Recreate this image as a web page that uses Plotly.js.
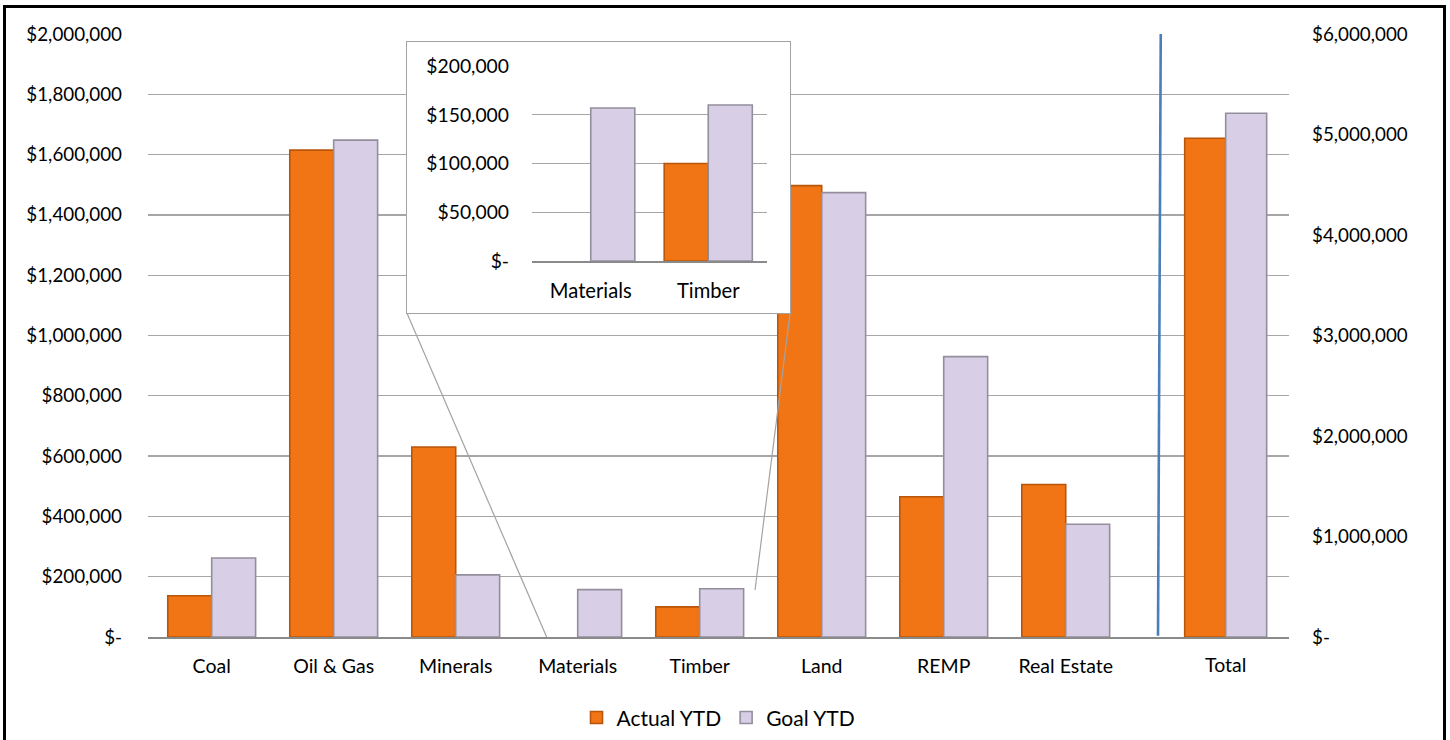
<!DOCTYPE html>
<html>
<head>
<meta charset="utf-8">
<script src="https://cdn.plot.ly/plotly-3.0.1.min.js"></script>
<style>
  html, body { margin: 0; padding: 0; background: #ffffff; }
  #wrap { position: relative; width: 1450px; height: 740px; overflow: hidden; }
  #main { position: absolute; left: 0; top: 0; width: 1450px; height: 740px; }
  #insetBox { position: absolute; left: 406px; top: 41px; width: 385px; height: 273px;
              box-sizing: border-box; border: 1px solid #a3a3a3; background: #ffffff; }
  #inset { position: absolute; left: 0; top: 0; width: 383px; height: 271px; }
  #frame { position: absolute; left: 3px; top: 5px; width: 1443px; height: 745px;
           box-sizing: border-box; border: 3px solid #000000; pointer-events: none; }
</style>
</head>
<body>
<div id="wrap">
  <div id="main"></div>
  <div id="insetBox"><div id="inset"></div></div>
  <div id="frame"></div>
</div>
<script>
// ---------- data ----------
var categories   = ['Coal', 'Oil & Gas', 'Minerals', 'Materials', 'Timber', 'Land', 'REMP', 'Real Estate'];
var actualYTD    = [137000, 1615000, 630000, null, 100000, 1497000, 465000, 506000];
var goalYTD      = [262000, 1648000, 206000, 157000, 160000, 1474000, 930000, 374000];

var totalCategory = ['Total'];
var totalActual   = [4962000];
var totalGoal     = [5211000];

var insetCategories = ['Materials', 'Timber'];

var leftTickVals  = [0, 200000, 400000, 600000, 800000, 1000000, 1200000, 1400000, 1600000, 1800000, 2000000];
var leftTickText  = ['$-', '$200,000', '$400,000', '$600,000', '$800,000', '$1,000,000', '$1,200,000', '$1,400,000', '$1,600,000', '$1,800,000', '$2,000,000'];
var rightTickVals = [0, 1000000, 2000000, 3000000, 4000000, 5000000, 6000000];
var rightTickText = ['$-', '$1,000,000', '$2,000,000', '$3,000,000', '$4,000,000', '$5,000,000', '$6,000,000'];
var insetTickVals = [0, 50000, 100000, 150000, 200000];
var insetTickText = ['$-', '$50,000', '$100,000', '$150,000', '$200,000'];

// ---------- styles ----------
var ORANGE = '#F17514', ORANGE_EDGE = '#B8560B';
var LILAC  = '#D8CFE6', LILAC_EDGE  = '#948E9C';
var GRID = '#a6a6a6', AXIS = '#8a8a8a';
var FONT = 'Lato, "Open Sans", sans-serif';

var BW = 0.36;    // bar width (category units), main
var BWT = 0.336;  // bar width for Total

var traces = [
  { type: 'bar', name: 'Actual YTD', x: categories, y: actualYTD,
    width: BW, offset: -BW, xaxis: 'x', yaxis: 'y',
    marker: { color: ORANGE, line: { color: ORANGE_EDGE, width: 1.6 } }, hoverinfo: 'skip' },
  { type: 'bar', name: 'Goal YTD', x: categories, y: goalYTD,
    width: BW, offset: 0, xaxis: 'x', yaxis: 'y',
    marker: { color: LILAC, line: { color: LILAC_EDGE, width: 1.6 } }, hoverinfo: 'skip' },
  { type: 'bar', name: 'Actual YTD', x: totalCategory, y: totalActual, showlegend: false,
    width: BWT, offset: -BWT, xaxis: 'x2', yaxis: 'y2',
    marker: { color: ORANGE, line: { color: ORANGE_EDGE, width: 1.6 } }, hoverinfo: 'skip' },
  { type: 'bar', name: 'Goal YTD', x: totalCategory, y: totalGoal, showlegend: false,
    width: BWT, offset: 0, xaxis: 'x2', yaxis: 'y2',
    marker: { color: LILAC, line: { color: LILAC_EDGE, width: 1.6 } }, hoverinfo: 'skip' }
];

var yTickFont = { family: FONT, size: 18.8, color: '#000000' };
var xTickFont = { family: FONT, size: 19.5, color: '#000000' };

var layout = {
  width: 1450, height: 740,
  margin: { l: 148, r: 161, t: 34, b: 103, autoexpand: false },
  paper_bgcolor: 'rgba(0,0,0,0)', plot_bgcolor: 'rgba(0,0,0,0)',
  barmode: 'overlay',
  font: { family: FONT, color: '#000000' },
  showlegend: true,
  legend: { orientation: 'h', x: 0.5, xanchor: 'center', y: -0.134, yanchor: 'middle',
            font: { family: FONT, size: 21, color: '#000000' }, traceorder: 'normal' },
  xaxis: { type: 'category', categoryorder: 'array', categoryarray: categories,
           range: [-0.522, 8.830], showgrid: false, zeroline: false,
           showline: true, linecolor: AXIS, linewidth: 1.6,
           ticks: '', ticklabelstandoff: 11, tickfont: xTickFont, fixedrange: true },
  xaxis2: { type: 'category', overlaying: 'x', anchor: 'y', side: 'bottom',
            range: [-8.834, 0.519], showgrid: false, zeroline: false, showline: false,
            ticks: '', ticklabelstandoff: 14, tickfont: xTickFont, fixedrange: true },
  yaxis: { range: [0, 2000000], tickmode: 'array', tickvals: leftTickVals, ticktext: leftTickText,
           showgrid: true, gridcolor: GRID, gridwidth: 1.3, zeroline: false, showline: false,
           ticks: '', ticklabelstandoff: 25, tickfont: yTickFont, fixedrange: true },
  yaxis2: { overlaying: 'y', side: 'right', anchor: 'x', range: [0, 6000000],
            tickmode: 'array', tickvals: rightTickVals, ticktext: rightTickText,
            showgrid: false, zeroline: false, showline: false,
            ticks: '', ticklabelstandoff: 22, tickfont: yTickFont, fixedrange: true },
  shapes: [
    // separator line before Total
    { type: 'line', xref: 'paper', yref: 'paper', x0: 0.8876, y0: 1, x1: 0.8852, y1: 0.002,
      line: { color: '#4a7ebb', width: 2.6 }, layer: 'above' },
    // zoom connector lines
    { type: 'line', xref: 'paper', yref: 'paper', x0: 0.2270, y0: 0.5368, x1: 0.3494, y1: 0.0,
      line: { color: '#a3a3a3', width: 1.2 }, layer: 'above' },
    { type: 'line', xref: 'paper', yref: 'paper', x0: 0.5627, y0: 0.5368, x1: 0.5320, y1: 0.0779,
      line: { color: '#a3a3a3', width: 1.2 }, layer: 'above' }
  ]
};

Plotly.newPlot('main', traces, layout, { staticPlot: true, displayModeBar: false });

// ---------- inset (zoom of Materials & Timber) ----------
var insetActual = insetCategories.map(function (c) { return actualYTD[categories.indexOf(c)]; });
var insetGoal   = insetCategories.map(function (c) { return goalYTD[categories.indexOf(c)]; });
var IBW = 0.375;

var insetTraces = [
  { type: 'bar', name: 'Actual YTD', x: insetCategories, y: insetActual, width: IBW, offset: -IBW,
    marker: { color: ORANGE, line: { color: ORANGE_EDGE, width: 1.6 } }, hoverinfo: 'skip' },
  { type: 'bar', name: 'Goal YTD', x: insetCategories, y: insetGoal, width: IBW, offset: 0,
    marker: { color: LILAC, line: { color: LILAC_EDGE, width: 1.6 } }, hoverinfo: 'skip' }
];
var insetLayout = {
  width: 383, height: 271,
  margin: { l: 125, r: 23, t: 24, b: 52, autoexpand: false },
  paper_bgcolor: '#ffffff', plot_bgcolor: '#ffffff',
  barmode: 'overlay', showlegend: false,
  font: { family: FONT, color: '#000000' },
  xaxis: { type: 'category', range: [-0.5, 1.5], showgrid: false, zeroline: false,
           showline: true, linecolor: AXIS, linewidth: 1.6, ticks: '', ticklabelstandoff: 11,
           tickfont: { family: FONT, size: 20.2, color: '#000000' }, fixedrange: true },
  yaxis: { range: [0, 200000], tickmode: 'array', tickvals: insetTickVals, ticktext: insetTickText,
           showgrid: true, gridcolor: GRID, gridwidth: 1.3, zeroline: false, showline: false,
           ticks: '', ticklabelstandoff: 22, tickfont: { family: FONT, size: 19.3, color: '#000000' },
           fixedrange: true }
};
Plotly.newPlot('inset', insetTraces, insetLayout, { staticPlot: true, displayModeBar: false });
</script>
</body>
</html>
